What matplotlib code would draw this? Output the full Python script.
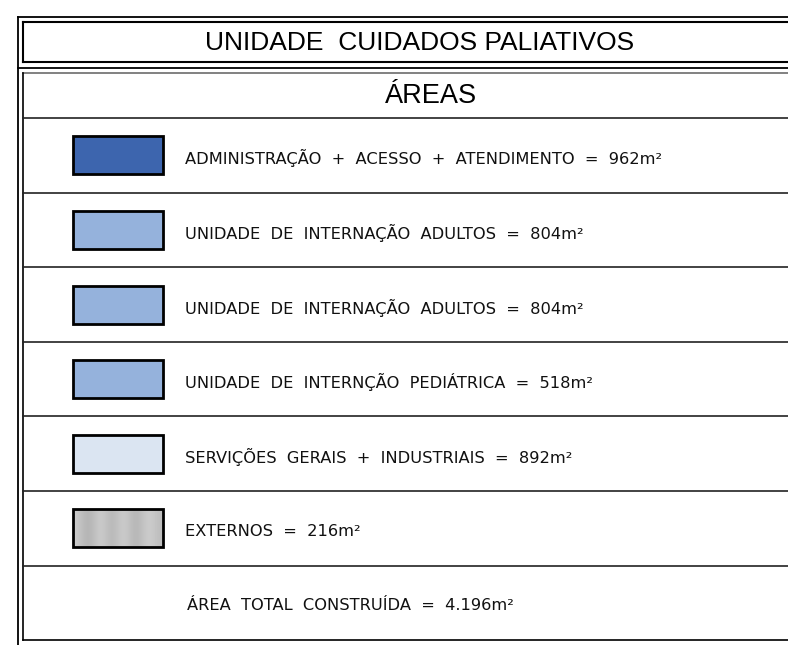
import matplotlib
matplotlib.use("Agg")
import matplotlib.pyplot as plt
from matplotlib.patches import Rectangle
import numpy as np

title = "UNIDADE  CUIDADOS PALIATIVOS"
subtitle = "ÁREAS"
labels = [
    "ADMINISTRAÇÃO  +  ACESSO  +  ATENDIMENTO  =  962m²",
    "UNIDADE  DE  INTERNAÇÃO  ADULTOS  =  804m²",
    "UNIDADE  DE  INTERNAÇÃO  ADULTOS  =  804m²",
    "UNIDADE  DE  INTERNÇÃO  PEDIÁTRICA  =  518m²",
    "SERVIÇÕES  GERAIS  +  INDUSTRIAIS  =  892m²",
    "EXTERNOS  =  216m²",
]
colors = ["#3d65ae", "#95b2dc", "#95b2dc", "#95b2dc", "#dbe5f2", None]
total_label = "ÁREA  TOTAL  CONSTRUÍDA  =  4.196m²"
stripe_grays = [0.80, 0.74, 0.70, 0.74, 0.80, 0.76, 0.72, 0.76, 0.80, 0.75, 0.71, 0.75, 0.80, 0.78, 0.74]

W, H = 788, 645
fig = plt.figure(figsize=(W / 100, H / 100), dpi=100)
ax = fig.add_axes([0, 0, 1, 1])
ax.set_xlim(0, W)
ax.set_ylim(H, 0)
ax.axis("off")

k = "black"
# outer frame lines
ax.plot([18, 18], [17, H], color=k, lw=1.3)
ax.plot([18, W], [17, 17], color=k, lw=1.3)
ax.plot([23, 23], [22, 62], color=k, lw=1.5)
ax.plot([23, W], [22, 22], color=k, lw=1.5)
ax.plot([23, W], [62, 62], color=k, lw=1.5)
ax.plot([18, W], [68, 68], color=k, lw=1.3)
ax.plot([23, W], [72.5, 72.5], color="#777777", lw=1.3)
ax.plot([23, 23], [72.5, 640], color=k, lw=1.2)

ax.text(420, 43, title, ha="center", va="center", fontsize=19,
        family="Liberation Sans", color="black")
ax.text(431, 96, subtitle, ha="center", va="center", fontsize=19.5,
        family="Liberation Sans", color="black")

row_top = 118
row_h = 74.6
n = len(labels) + 1
for i in range(n + 1):
    y = row_top + i * row_h
    ax.plot([23, W], [y, y], color="#222222" if i < n else k, lw=1.2)

font_row = dict(fontsize=11.7, family="DejaVu Sans", color="#111111",
                ha="left", va="center")
for i, (lab, c) in enumerate(zip(labels, colors)):
    yc = row_top + i * row_h + row_h / 2
    y0 = yc - 19
    if c is not None:
        ax.add_patch(Rectangle((73, y0), 90, 38, facecolor=c, edgecolor=k,
                               lw=2.0, zorder=3))
    else:
        g = np.array(stripe_grays)[None, :]
        ax.imshow(g, cmap="gray", vmin=0, vmax=1, extent=(73, 163, y0 + 38, y0),
                  aspect="auto", interpolation="bicubic", zorder=2)
        ax.add_patch(Rectangle((73, y0), 90, 38, facecolor="none", edgecolor=k,
                               lw=2.0, zorder=3))
    ax.text(185, yc + 3, lab, **font_row)

yc = row_top + len(labels) * row_h + row_h / 2
ax.text(187, yc + 3, total_label, **font_row)

ax.set_xlim(0, W)
ax.set_ylim(H, 0)
fig.savefig("out.png", dpi=100)
